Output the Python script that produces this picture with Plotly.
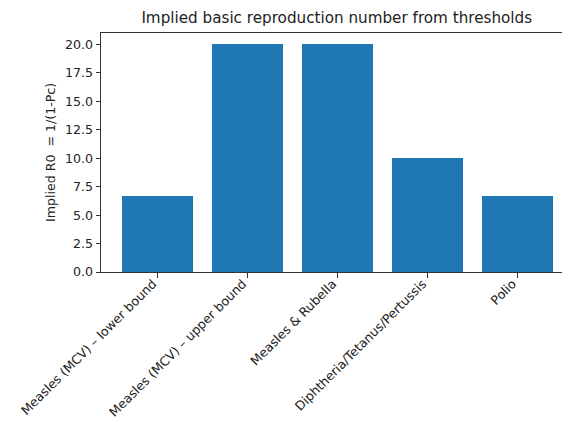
import plotly.graph_objects as go

categories = ["Measles (MCV) – lower bound", "Measles (MCV) – upper bound",
              "Measles & Rubella", "Diphtheria/Tetanus/Pertussis", "Polio"]
thresholds = [0.85, 0.95, 0.95, 0.90, 0.85]
r0_values = [1.0 / (1.0 - p) for p in thresholds]
y_ticks = [0.0, 2.5, 5.0, 7.5, 10.0, 12.5, 15.0, 17.5, 20.0]

fig = go.Figure(go.Bar(
    x=list(range(len(categories))), y=r0_values, width=0.79,
    marker=dict(color="#1f77b4", line=dict(width=0)),
))

# page body has an 8px default margin; figure sized so it fills the 570x423 window
fig.update_layout(
    width=562, height=415,
    margin=dict(l=93, r=0, t=25, b=151, autoexpand=False),
    plot_bgcolor="white", paper_bgcolor="white",
    font=dict(family="DejaVu Sans", size=12.6, color="#222"),
    title=dict(text="Implied basic reproduction number from thresholds",
               x=0.585, xanchor="center", y=0.976, yanchor="middle",
               font=dict(size=15.2, color="#222")),
    showlegend=False, bargap=0,
)
fig.update_xaxes(
    range=[-0.633, 4.583], tickmode="array",
    tickvals=list(range(len(categories))), ticktext=categories,
    tickangle=-45, ticks="outside", ticklen=4.5, tickcolor="#333",
    ticklabelstandoff=-6, ticklabelshift=-5,
    showline=True, linecolor="#333", linewidth=1, mirror=True,
    showgrid=False, zeroline=False, automargin=False,
)
fig.update_yaxes(
    range=[0, 21], tickmode="array", tickvals=y_ticks,
    ticktext=[f"{v:.1f}" for v in y_ticks],
    ticks="outside", ticklen=4.5, tickcolor="#333",
    showline=True, linecolor="#333", linewidth=1,
    showgrid=False, zeroline=False, automargin=False,
    title=dict(text="Implied R0  = 1/(1-Pc)", standoff=6, font=dict(size=12.6)),
)

fig.write_html("out.html")
